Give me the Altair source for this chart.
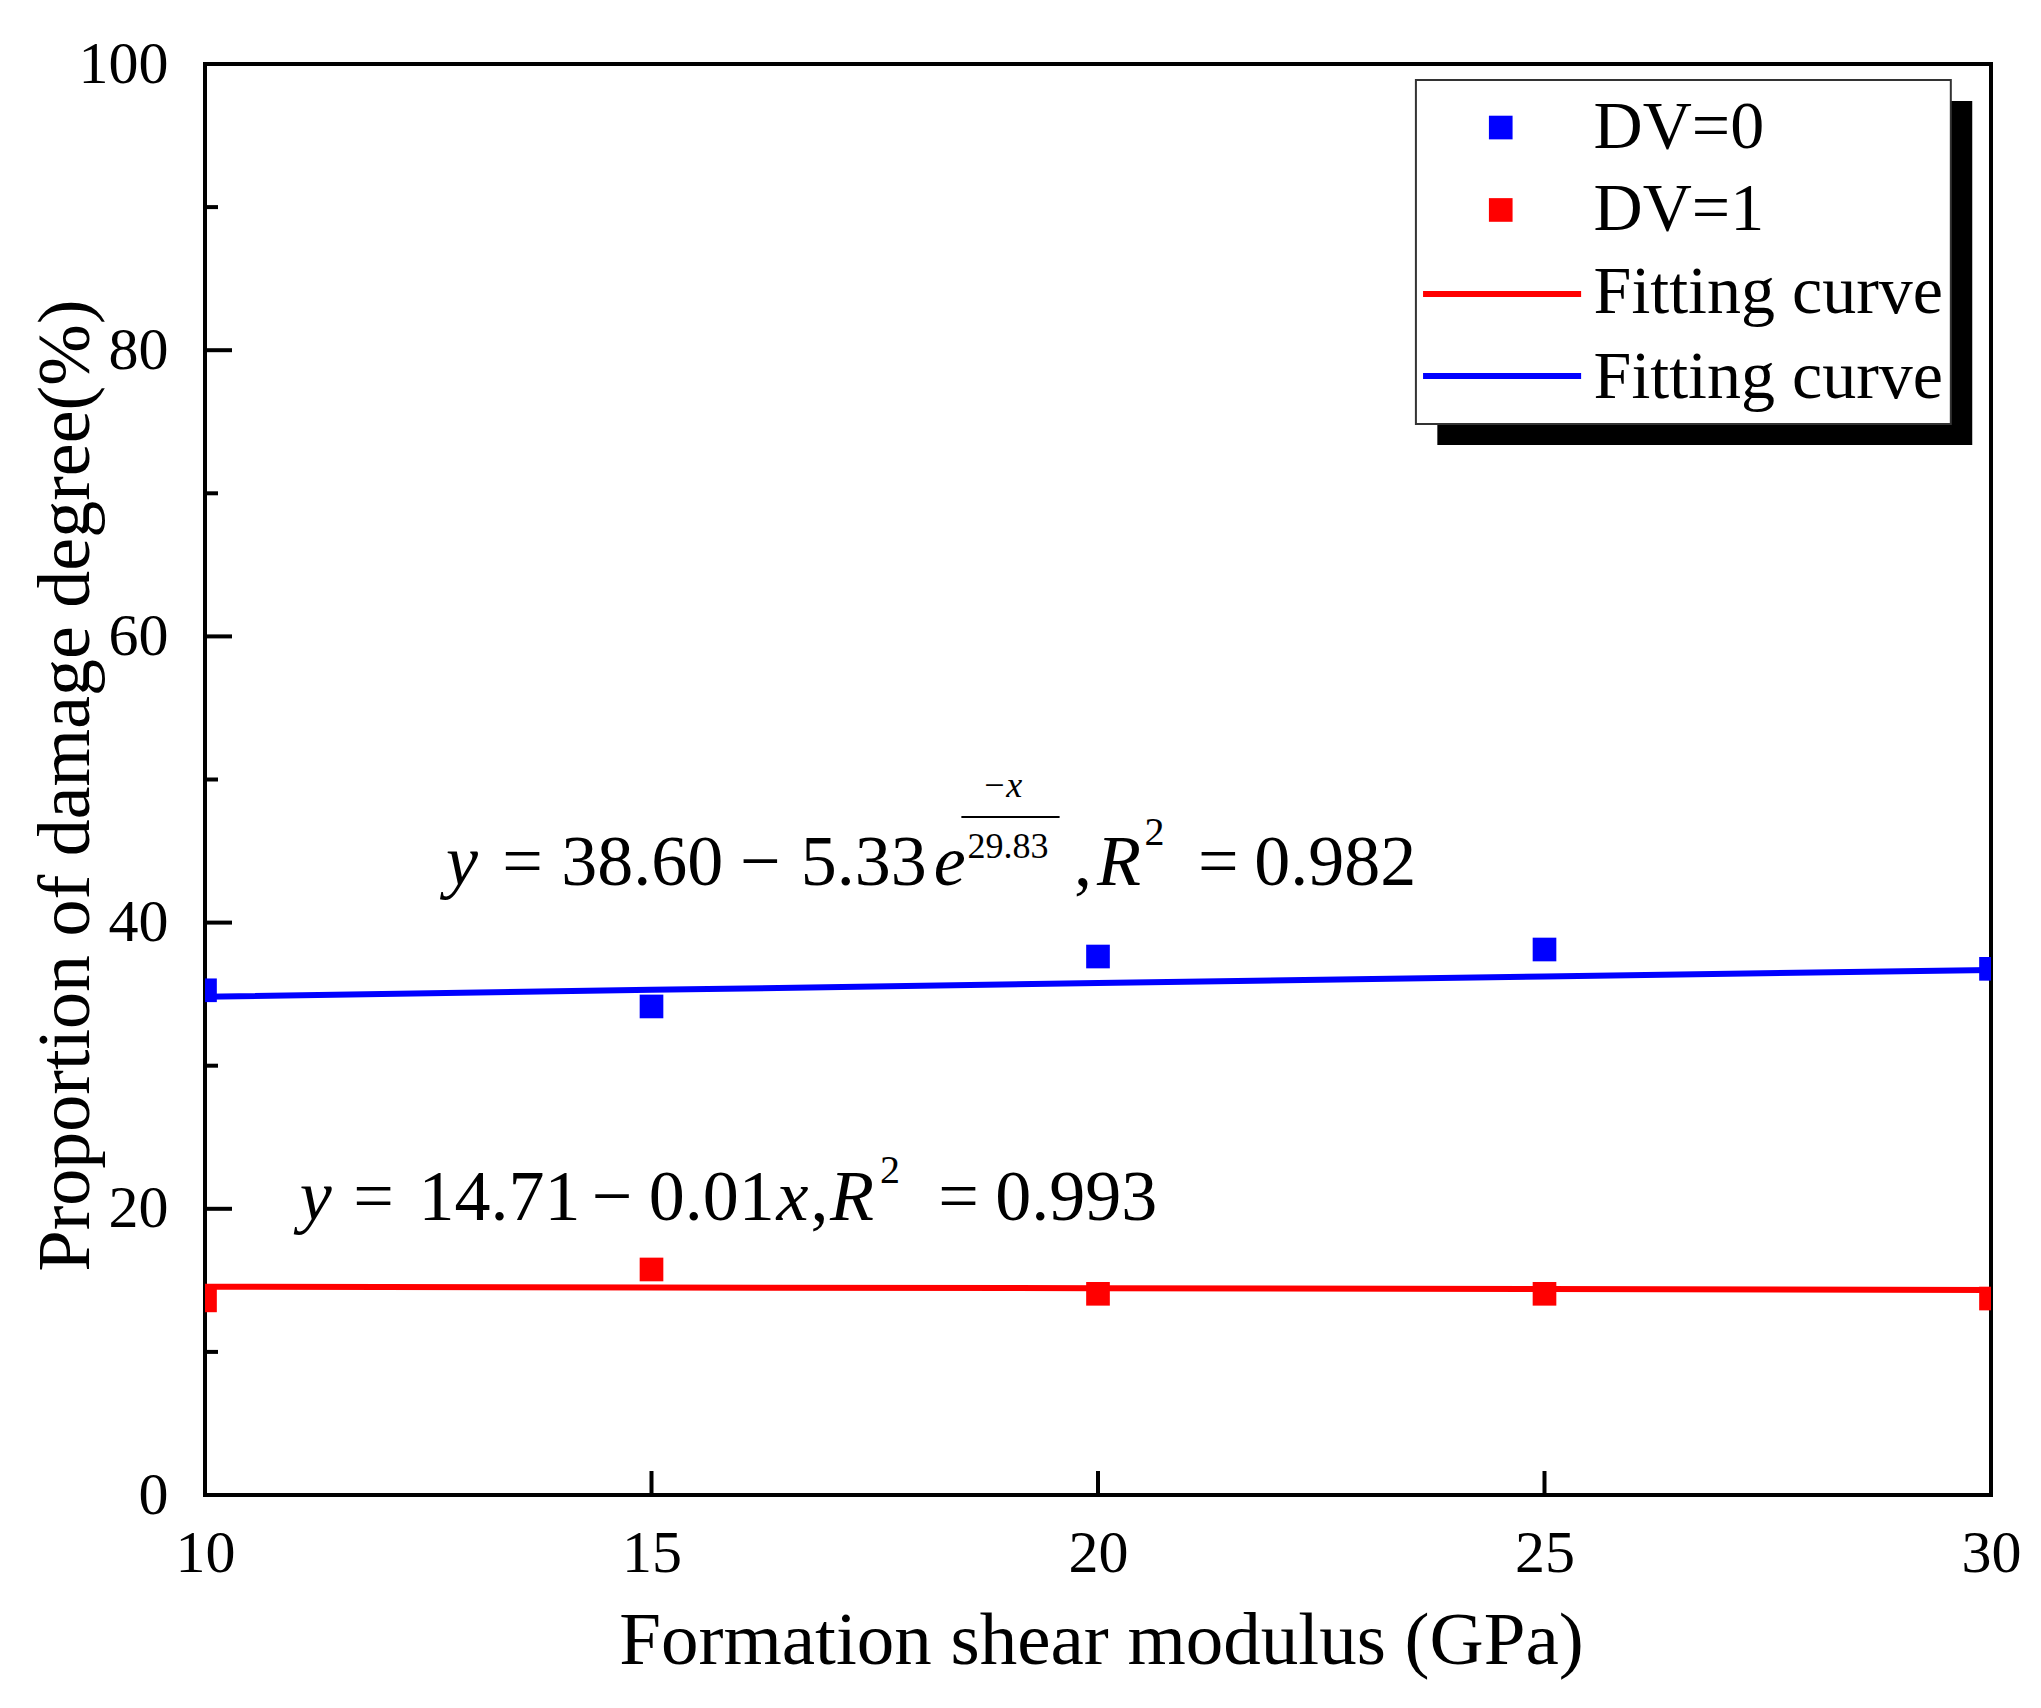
import altair as alt
import pandas as pd

# ── style constants ──────────────────────────────────────────────────────────

FONT = "Liberation Serif"
BLUE = "#0000FF"
RED = "#FF0000"
W, H = 1786, 1431

# ── data ─────────────────────────────────────────────────────────────────────

modulus = [10, 15, 20, 25, 30]
dv0 = [35.27, 34.14, 37.63, 38.12, 36.77]
dv1 = [13.60, 15.76, 14.06, 14.06, 13.73]

fit_x = [10, 15, 20, 25, 30]
fit_dv0 = [34.82, 35.30, 35.78, 36.24, 36.69]
fit_dv1 = [14.56, 14.50, 14.45, 14.39, 14.33]

x_labels = [10, 15, 20, 25, 30]
y_major = [0, 20, 40, 60, 80, 100]
y_minor = [10, 30, 50, 70, 90]
x_major = [15, 20, 25]

# equation pieces (text, x, baseline y, font size, italic)
eq_text = ["y", "=", "38.60", "−", "5.33", "e", "−x", "29.83", ",", "R", "2", "=", "0.982",
           "y", "=", "14.71", "−", "0.01", "x", ",", "R", "2", "=", "0.993"]
eq_x = [12.70, 13.33, 13.99, 15.99, 16.67, 18.16, 18.70, 18.54, 19.73, 19.99, 20.52, 21.12, 21.75,
        11.06, 11.66, 12.39, 14.33, 14.97, 16.40, 16.78, 17.00, 17.56, 18.21, 18.85]
eq_y = [42.63, 42.63, 42.63, 42.63, 42.63, 42.63, 48.78, 44.51, 42.63, 42.63, 45.42, 42.63, 42.63,
        19.22, 19.22, 19.22, 19.22, 19.22, 19.22, 19.22, 19.22, 21.80, 19.22, 19.22]
eq_size = [72, 72, 72, 72, 72, 72, 36, 36, 72, 72, 40, 72, 72,
           72, 72, 72, 72, 72, 72, 72, 72, 40, 72, 72]
eq_italic = [1, 0, 0, 0, 0, 1, 1, 0, 0, 1, 0, 0, 0,
             1, 0, 0, 0, 0, 1, 0, 1, 0, 0, 0]

# legend
legend_labels = ["DV=0", "DV=1", "Fitting curve", "Fitting curve"]
legend_label_y = [94.13, 88.40, 82.60, 76.66]

# ── tables ───────────────────────────────────────────────────────────────────

points = pd.DataFrame({
    "x": modulus * 2,
    "y": dv0 + dv1,
    "series": ["DV=0"] * len(dv0) + ["DV=1"] * len(dv1),
})
fits = pd.DataFrame({
    "x": fit_x * 2,
    "y": fit_dv0 + fit_dv1,
    "series": ["DV=0"] * len(fit_dv0) + ["DV=1"] * len(fit_dv1),
})
eqs = pd.DataFrame({"text": eq_text, "x": eq_x, "y": eq_y,
                    "fs": eq_size, "italic": eq_italic})

xs = alt.Scale(domain=[10, 30], nice=False, zero=False)
ys = alt.Scale(domain=[0, 100], nice=False)
cs = alt.Scale(domain=["DV=0", "DV=1"], range=[BLUE, RED])

# one axis spec shared by every layer so that the merged axes stay intact
x_axis = alt.Axis(
    values=x_labels, ticks=False, domain=False, grid=False,
    labelFont=FONT, labelFontSize=60, labelColor="black", labelPadding=29,
    labelFlush=False,
    titleFont=FONT, titleFontSize=75, titleFontWeight="normal", titleColor="black",
    titleX=896, titleY=168, titleBaseline="alphabetic",
)
y_axis = alt.Axis(
    values=y_major, ticks=False, domain=False, grid=False,
    labelFont=FONT, labelFontSize=60, labelColor="black", labelPadding=37,
    labelFlush=False,
    titleFont=FONT, titleFontSize=74, titleFontWeight="normal", titleColor="black",
    titleX=-117, titleY=721, titleBaseline="alphabetic",
)
X_TITLE = "Formation shear modulus (GPa)"
Y_TITLE = "Proportion of damage degree(%)"


def X(field="x:Q"):
    return alt.X(field, scale=xs, axis=x_axis, title=X_TITLE)


def Y(field="y:Q"):
    return alt.Y(field, scale=ys, axis=y_axis, title=Y_TITLE)


# ── data layers ──────────────────────────────────────────────────────────────

fit_lines = alt.Chart(fits).mark_line(strokeWidth=6, clip=True).encode(
    x=X(), y=Y(),
    color=alt.Color("series:N", scale=cs, legend=None),
    detail="series:N",
)

markers = alt.Chart(points).mark_square(size=560, opacity=1, clip=True).encode(
    x=X(), y=Y(),
    color=alt.Color("series:N", scale=cs, legend=None),
)

# ── inward ticks ─────────────────────────────────────────────────────────────

y_ticks = alt.Chart(pd.DataFrame({"y": y_major})).mark_rule(
    color="black", strokeWidth=4).encode(x=alt.value(0), x2=alt.value(27), y=Y())
y_minor_ticks = alt.Chart(pd.DataFrame({"y": y_minor})).mark_rule(
    color="black", strokeWidth=4).encode(x=alt.value(0), x2=alt.value(13), y=Y())
x_ticks = alt.Chart(pd.DataFrame({"x": x_major})).mark_rule(
    color="black", strokeWidth=4).encode(x=X(), y=alt.value(H), y2=alt.value(H - 24))

# ── equations ────────────────────────────────────────────────────────────────

eq_regular = alt.Chart(eqs).transform_filter("datum.italic == 0").mark_text(
    font=FONT, align="left", baseline="alphabetic", color="black").encode(
    x=X(), y=Y(), text="text:N", size=alt.Size("fs:Q", scale=None))
eq_ital = alt.Chart(eqs).transform_filter("datum.italic == 1").mark_text(
    font=FONT, fontStyle="italic", align="left", baseline="alphabetic", color="black").encode(
    x=X(), y=Y(), text="text:N", size=alt.Size("fs:Q", scale=None))
frac_bar = alt.Chart(pd.DataFrame({"x": [18.47], "x2": [19.57], "y": [47.38]})).mark_rule(
    color="black", strokeWidth=2).encode(x=X(), x2="x2:Q", y=Y())

# ── legend box with drop shadow ──────────────────────────────────────────────

shadow = alt.Chart(pd.DataFrame({"x": [23.80], "x2": [29.79], "y": [97.41], "y2": [73.38]})).mark_rect(
    color="black").encode(x=X(), x2="x2:Q", y=Y(), y2="y2:Q")
box = alt.Chart(pd.DataFrame({"x": [23.56], "x2": [29.55], "y": [98.88], "y2": [74.84]})).mark_rect(
    fill="white", stroke="#333333", strokeWidth=2).encode(x=X(), x2="x2:Q", y=Y(), y2="y2:Q")

leg_sq = alt.Chart(pd.DataFrame({"x": [24.51, 24.51], "y": [95.56, 89.80],
                                 "series": ["DV=0", "DV=1"]})).mark_square(size=560, opacity=1).encode(
    x=X(), y=Y(), color=alt.Color("series:N", scale=cs, legend=None))
leg_lines = alt.Chart(pd.DataFrame({"x": [23.64, 23.64], "x2": [25.41, 25.41], "y": [83.93, 78.20],
                                    "series": ["DV=1", "DV=0"]})).mark_rule(strokeWidth=6).encode(
    x=X(), x2="x2:Q", y=Y(), color=alt.Color("series:N", scale=cs, legend=None))
leg_text = alt.Chart(pd.DataFrame({"x": [25.55] * 4, "y": legend_label_y,
                                   "text": legend_labels})).mark_text(
    font=FONT, fontSize=68, align="left", baseline="alphabetic", color="black").encode(
    x=X(), y=Y(), text="text:N")

chart = alt.layer(
    fit_lines, markers, y_ticks, y_minor_ticks, x_ticks,
    eq_regular, eq_ital, frac_bar,
    shadow, box, leg_sq, leg_lines, leg_text,
).properties(
    width=W, height=H,
    autosize=alt.AutoSizeParams(type="none"),
    padding={"left": 197, "top": 56, "right": 40, "bottom": 200},
    background="white",
).configure_view(stroke="black", strokeWidth=4)

chart.save("out.html", embed_options={"renderer": "svg", "actions": False})
